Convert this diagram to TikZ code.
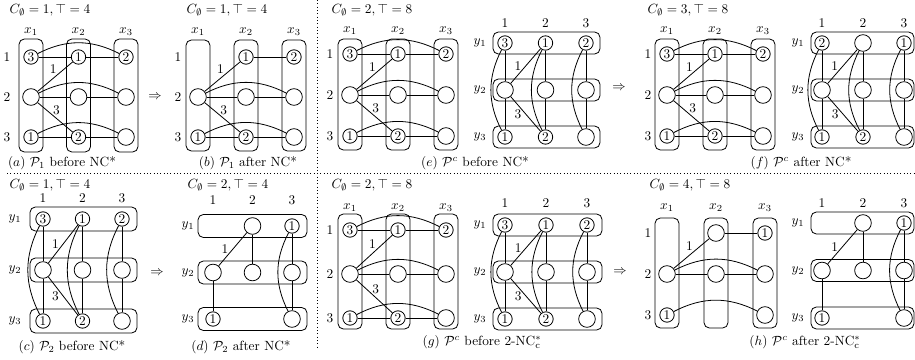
\documentclass[tikz,border=0pt]{standalone}
\usepackage{amsmath,amssymb}

% Column frame of an x-variable graph: boxes, x labels, row labels
% #1 prefix, #2 dx, #3 dy, #4 box top, #5 box bottom, #6 label y, #7 row label x
\newcommand\XFrame[7]{%
  \foreach \i in {1,2,3} {
    \draw[grp] ({(\i-1)*#2-12},#4) rectangle ({(\i-1)*#2+12},#5);
    \node[hd] (#1-x\i) at ({(\i-1)*#2},#6) {$x_\i$};
    \node[hd] (#1-r\i) at (#7,{(\i-1)*#3}) {\i};
  }
}
% Row frame of a y-variable graph
% #1 prefix, #2 dx, #3 dy, #4 box left, #5 box right, #6 half height, #7 column label y, #8 row label x
\newcommand\YFrame[8]{%
  \foreach \i in {1,2,3} {
    \draw[grp] (#4,{(\i-1)*#3-#6}) rectangle (#5,{(\i-1)*#3+#6});
    \node[hd] (#1-c\i) at ({(\i-1)*#2},#7) {\i};
    \node[hd] (#1-y\i) at (#8,{(\i-1)*#3}) {$y_\i$};
  }
}
% Complete x-variable graph
\newcommand\XFull[3]{%
  \node[nv] (#1-11) at (0,0) {3};
  \node[nv] (#1-12) at (#2,0) {1};
  \node[nv] (#1-13) at ({2*#2},0) {2};
  \node[ev] (#1-21) at (0,#3) {};
  \node[ev] (#1-22) at (#2,#3) {};
  \node[ev] (#1-23) at ({2*#2},#3) {};
  \node[nv] (#1-31) at (0,{2*#3}) {1};
  \node[nv] (#1-32) at (#2,{2*#3}) {2};
  \node[ev] (#1-33) at ({2*#2},{2*#3}) {};
  \draw (#1-11) -- (#1-12) -- (#1-13);
  \draw (#1-21) -- (#1-22) -- (#1-23);
  \draw (#1-31) -- (#1-32) -- (#1-33);
  \draw (#1-11) to[arcx] (#1-13);
  \draw (#1-21) to[arcx] (#1-23);
  \draw (#1-31) to[arcx] (#1-33);
  \draw (#1-21) -- node[wl, above=1pt, xshift=-1.5pt] (#1-w1) {1} (#1-12);
  \draw (#1-21) -- node[wl, above=1pt, xshift=1pt] (#1-w3) {3} (#1-32);
}
% Rows 2 and 3 plus all edges of a y-variable graph (top row defined before)
\newcommand\YRest[3]{%
  \node[ev] (#1-21) at (0,#3) {};
  \node[ev] (#1-22) at (#2,#3) {};
  \node[ev] (#1-23) at ({2*#2},#3) {};
  \node[nv] (#1-31) at (0,{2*#3}) {1};
  \node[nv] (#1-32) at (#2,{2*#3}) {2};
  \node[ev] (#1-33) at ({2*#2},{2*#3}) {};
  \draw (#1-11) -- (#1-21) -- (#1-31);
  \draw (#1-12) -- (#1-22) -- (#1-32);
  \draw (#1-13) -- (#1-23) -- (#1-33);
  \draw (#1-11) to[arcy] (#1-31);
  \draw (#1-12) to[arcy] (#1-32);
  \draw (#1-13) to[arcy] (#1-33);
  \draw (#1-21) -- node[wl, left=2pt] (#1-w1) {1} (#1-12);
  \draw (#1-21) -- node[wl, left=2pt] (#1-w3) {3} (#1-32);
}

\begin{document}
\begin{tikzpicture}[x=0.75pt, y=-0.75pt, line width=0.6pt,
  grp/.style={draw, rounded corners=4pt},
  ev/.style={circle, draw, minimum size=12.5pt, inner sep=0pt},
  nv/.style={circle, draw, minimum size=10.8pt, inner sep=0pt},
  wl/.style={inner sep=1pt},
  hd/.style={inner sep=0pt},
  arcx/.style={bend left=27},
  arcy/.style={bend right=27},
  sep/.style={dotted, line width=0.5pt}]
\useasboundingbox (0,0) rectangle (915,360);

% separators
\draw[sep] (7,173) -- (915,173);
\draw[sep] (317,0) -- (317,347);

% titles
\node[hd] (ta) at (50,10)  {$C_\emptyset = 1, \top = 4$};
\node[hd] (tb) at (227,10) {$C_\emptyset = 1, \top = 4$};
\node[hd] (te) at (372,10) {$C_\emptyset = 2, \top = 8$};
\node[hd] (tf) at (688,10) {$C_\emptyset = 3, \top = 8$};
\node[hd] (tc) at (50,185) {$C_\emptyset = 1, \top = 4$};
\node[hd] (td) at (228,185) {$C_\emptyset = 2, \top = 4$};
\node[hd] (tg) at (372,185) {$C_\emptyset = 2, \top = 8$};
\node[hd] (th) at (690,185) {$C_\emptyset = 4, \top = 8$};

% captions
\node[hd] (ca) at (62,163)  {$(a)$ $\mathcal{P}_1$ before NC*};
\node[hd] (cb) at (248,163) {$(b)$ $\mathcal{P}_1$ after NC*};
\node[hd] (ce) at (475,163) {$(e)$ $\mathcal{P}^c$ before NC*};
\node[hd] (cf) at (801,163) {$(f)$ $\mathcal{P}^c$ after NC*};
\node[hd] (cc) at (72,347)  {$(c)$ $\mathcal{P}_2$ before NC*};
\node[hd] (cd) at (241,347) {$(d)$ $\mathcal{P}_2$ after NC*};
\node[hd] (cg) at (482,342) {$(g)$ $\mathcal{P}^c$ before 2-NC$^*_{\mathrm{c}}$};
\node[hd] (ch) at (805,342) {$(h)$ $\mathcal{P}^c$ after 2-NC$^*_{\mathrm{c}}$};

% implication arrows
\node[hd] (ia) at (155,97)  {$\Rightarrow$};
\node[hd] (ib) at (619,88)  {$\Rightarrow$};
\node[hd] (ic) at (157,273) {$\Rightarrow$};
\node[hd] (id) at (620,272) {$\Rightarrow$};

% (a)
\begin{scope}[shift={(31,57)}]
  \XFrame{a}{47.5}{40}{-18}{95}{-25}{-24}
  \XFull{a}{47.5}{40}
\end{scope}

% (b)
\begin{scope}[shift={(198,57)}]
  \XFrame{b}{48}{40}{-17}{94}{-25}{-20}
  \node[nv] (b-12) at (48,0) {1};
  \node[nv] (b-13) at (96,0) {2};
  \node[ev] (b-21) at (0,40) {};
  \node[ev] (b-22) at (48,40) {};
  \node[ev] (b-23) at (96,40) {};
  \node[nv] (b-31) at (0,80) {1};
  \node[nv] (b-32) at (48,80) {2};
  \node[ev] (b-33) at (96,80) {};
  \draw (b-12) -- (b-13);
  \draw (b-21) -- (b-22) -- (b-23);
  \draw (b-31) -- (b-32) -- (b-33);
  \draw (b-21) to[arcx] (b-23);
  \draw (b-31) to[arcx] (b-33);
  \draw (b-21) -- node[wl, above=1pt, xshift=-1.5pt] (b-w1) {1} (b-12);
  \draw (b-21) -- node[wl, above=1pt, xshift=1pt] (b-w3) {3} (b-32);
\end{scope}

% (e), x side
\begin{scope}[shift={(350,54)}]
  \XFrame{ex}{48}{41}{-15}{96}{-23}{-20}
  \XFull{ex}{48}{41}
\end{scope}
% (e), y side
\begin{scope}[shift={(505,43)}]
  \YFrame{ey}{40.5}{47}{-12}{95}{11}{-20}{-25}
  \node[nv] (ey-11) at (0,0) {3};
  \node[nv] (ey-12) at (40.5,0) {1};
  \node[nv] (ey-13) at (81,0) {2};
  \YRest{ey}{40.5}{47}
\end{scope}

% (f), x side
\begin{scope}[shift={(667,54)}]
  \XFrame{fx}{48}{41}{-15}{96}{-23}{-19}
  \XFull{fx}{48}{41}
\end{scope}
% (f), y side
\begin{scope}[shift={(822,43)}]
  \YFrame{fy}{41}{47}{-11}{92}{11}{-20}{-24}
  \node[nv] (fy-11) at (0,0) {2};
  \node[ev] (fy-12) at (41,0) {};
  \node[nv] (fy-13) at (82,0) {1};
  \YRest{fy}{41}{47}
\end{scope}

% (c)
\begin{scope}[shift={(43,219)}]
  \YFrame{c}{39.5}{51}{-13}{94}{12}{-21}{-28}
  \node[nv] (c-11) at (0,0) {3};
  \node[nv] (c-12) at (39.5,0) {1};
  \node[nv] (c-13) at (79,0) {2};
  \YRest{c}{39.5}{51}
\end{scope}

% (d)
\begin{scope}[shift={(213,226)}]
  \YFrame{d}{39.5}{46.5}{-15}{94}{11.5}{-26}{-25}
  \node[ev] (d-12) at (39.5,0) {};
  \node[nv] (d-13) at (79,0) {1};
  \node[ev] (d-21) at (0,46.5) {};
  \node[ev] (d-22) at (39.5,46.5) {};
  \node[ev] (d-23) at (79,46.5) {};
  \node[nv] (d-31) at (0,93) {1};
  \node[ev] (d-33) at (79,93) {};
  \draw (d-12) -- (d-22);
  \draw (d-13) -- (d-23) -- (d-33);
  \draw (d-13) to[arcy] (d-33);
  \draw (d-21) -- (d-31);
  \draw (d-21) -- node[wl, left=2pt] (d-w1) {1} (d-12);
\end{scope}

% (g), x side
\begin{scope}[shift={(350,230)}]
  \XFrame{gx}{48}{44}{-16}{99}{-22}{-20}
  \XFull{gx}{48}{44}
\end{scope}
% (g), y side
\begin{scope}[shift={(505,225)}]
  \YFrame{gy}{41}{47}{-12}{97}{11}{-22}{-25}
  \node[nv] (gy-11) at (0,0) {3};
  \node[nv] (gy-12) at (41,0) {1};
  \node[nv] (gy-13) at (82,0) {2};
  \YRest{gy}{41}{47}
\end{scope}

% (h), x side
\begin{scope}[shift={(667,233)}]
  \XFrame{hx}{49}{41}{-15}{95}{-25}{-19}
  \node[ev] (hx-12) at (49,0) {};
  \node[nv] (hx-13) at (98,0) {1};
  \node[ev] (hx-21) at (0,41) {};
  \node[ev] (hx-22) at (49,41) {};
  \node[ev] (hx-23) at (98,41) {};
  \node[nv] (hx-31) at (0,82) {1};
  \node[ev] (hx-33) at (98,82) {};
  \draw (hx-12) -- (hx-13);
  \draw (hx-21) -- (hx-22) -- (hx-23);
  \draw (hx-21) to[arcx] (hx-23);
  \draw (hx-31) to[arcx] (hx-33);
  \draw (hx-21) -- node[wl, above=1pt, xshift=-1.5pt] (hx-w1) {1} (hx-12);
\end{scope}
% (h), y side
\begin{scope}[shift={(822,223)}]
  \YFrame{hy}{41}{47.5}{-11}{92}{11}{-20}{-24}
  \node[ev] (hy-12) at (41,0) {};
  \node[nv] (hy-13) at (82,0) {1};
  \node[ev] (hy-21) at (0,47.5) {};
  \node[ev] (hy-22) at (41,47.5) {};
  \node[ev] (hy-23) at (82,47.5) {};
  \node[nv] (hy-31) at (0,95) {1};
  \node[ev] (hy-33) at (82,95) {};
  \draw (hy-12) -- (hy-22);
  \draw (hy-13) -- (hy-23) -- (hy-33);
  \draw (hy-13) to[arcy] (hy-33);
  \draw (hy-21) -- (hy-31);
  \draw (hy-21) -- node[wl, left=2pt] (hy-w1) {1} (hy-12);
\end{scope}
\end{tikzpicture}
\end{document}
